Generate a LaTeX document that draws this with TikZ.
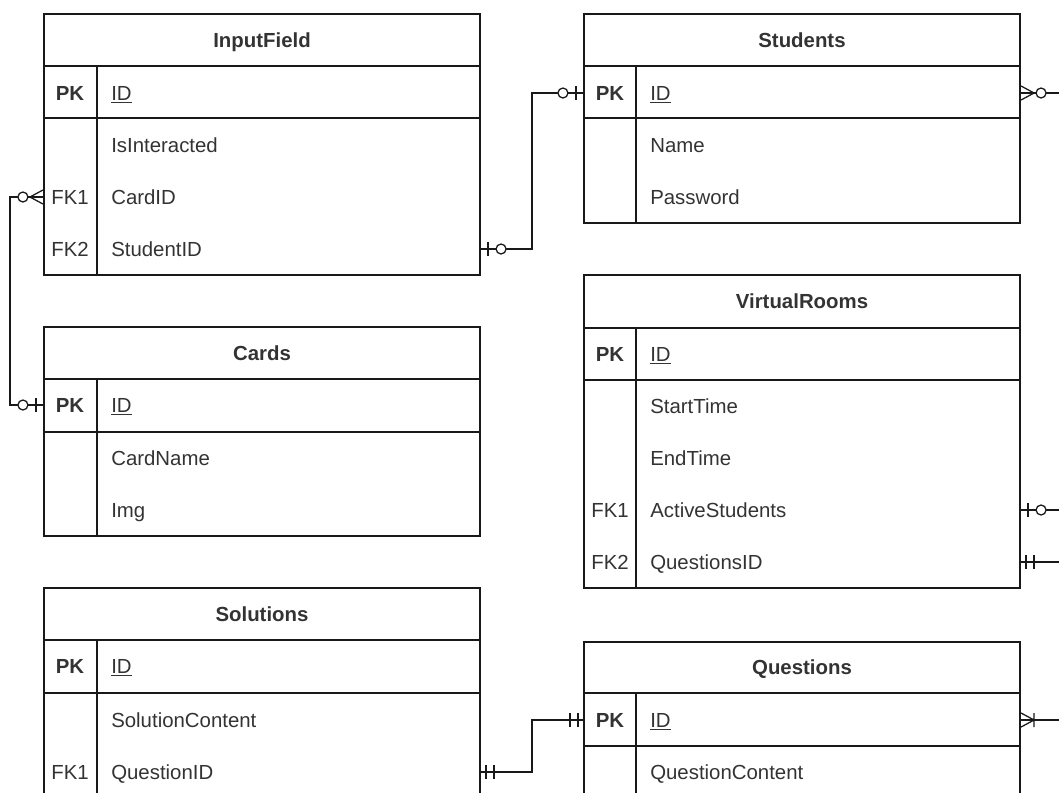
\documentclass[tikz,border=0pt]{standalone}
\usepackage{fontspec}
\setmainfont{Liberation Sans}
\definecolor{ink}{HTML}{333333}
\tikzset{
  tbl/.style={draw=black!90, line width=0.9pt},
  link/.style={draw=black!90, line width=0.9pt},
  txt/.style={font=\fontsize{14.5}{17}\selectfont, text=ink, inner sep=0pt, text height=10.4pt, text depth=0pt},
  hdr/.style={txt, font=\fontsize{14.5}{17}\selectfont\bfseries},
  key/.style={txt},
  fld/.style={txt, anchor=west},
  row/.style={minimum width=10.9cm, minimum height=1.3cm, inner sep=0pt, outer sep=0pt},
  zeroone/.pic={\draw[link] (8,-7) -- (8,7); \draw[link, fill=white] (21,0) circle [radius=5];},
  exactone/.pic={\draw[link] (6,-7) -- (6,7) (14,-7) -- (14,7);},
  zeromany/.pic={\draw[link] (1,-7) -- (14,0) -- (1,7); \draw[link, fill=white] (21,0) circle [radius=5];},
  onemany/.pic={\draw[link] (1,-7) -- (14,0) -- (1,7) (14,-7) -- (14,7);}
}
\begin{document}
\begin{tikzpicture}[x=0.025cm, y=-0.025cm]

  \clip (0,0) rectangle (1059,792);

  % InputField
  \draw[tbl] (44,14) rectangle (480,275) (44,66) -- (480,66) (44,118) -- (480,118) (97,66) -- (97,275);
  \node[hdr] (inp) at (262,40) {InputField};
  \foreach \y/\k/\f/\n in {93/\textbf{PK}/\underline{ID}/inp-id, 145//IsInteracted/inp-int, 197/FK1/CardID/inp-card, 249/FK2/StudentID/inp-stu}{
    \node[row] (\n) at (262,\y) {};
    \node[key] (\n-k) at (70,\y) {\k};
    \node[fld] (\n-f) at (111,\y) {\f};
  }

  % Cards
  \draw[tbl] (44,327) rectangle (480,536) (44,379) -- (480,379) (44,432) -- (480,432) (97,379) -- (97,536);
  \node[hdr] (crd) at (262,353) {Cards};
  \foreach \y/\k/\f/\n in {405/\textbf{PK}/\underline{ID}/crd-id, 458//CardName/crd-name, 510//Img/crd-img}{
    \node[row] (\n) at (262,\y) {};
    \node[key] (\n-k) at (70,\y) {\k};
    \node[fld] (\n-f) at (111,\y) {\f};
  }

  % Solutions
  \draw[tbl] (44,588) rectangle (480,798) (44,640) -- (480,640) (44,693) -- (480,693) (97,640) -- (97,798);
  \node[hdr] (sol) at (262,614) {Solutions};
  \foreach \y/\k/\f/\n in {666/\textbf{PK}/\underline{ID}/sol-id, 720//SolutionContent/sol-cont, 772/FK1/QuestionID/sol-qid}{
    \node[row] (\n) at (262,\y) {};
    \node[key] (\n-k) at (70,\y) {\k};
    \node[fld] (\n-f) at (111,\y) {\f};
  }

  % Students
  \draw[tbl] (584,14) rectangle (1020,223) (584,66) -- (1020,66) (584,118) -- (1020,118) (636,66) -- (636,223);
  \node[hdr] (stu) at (802,40) {Students};
  \foreach \y/\k/\f/\n in {93/\textbf{PK}/\underline{ID}/stu-id, 145//Name/stu-name, 197//Password/stu-pw}{
    \node[row] (\n) at (802,\y) {};
    \node[key] (\n-k) at (610,\y) {\k};
    \node[fld] (\n-f) at (650,\y) {\f};
  }

  % VirtualRooms
  \draw[tbl] (584,275) rectangle (1020,588) (584,328) -- (1020,328) (584,380) -- (1020,380) (636,328) -- (636,588);
  \node[hdr] (vr) at (802,301) {VirtualRooms};
  \foreach \y/\k/\f/\n in {354/\textbf{PK}/\underline{ID}/vr-id, 406//StartTime/vr-start, 458//EndTime/vr-end, 510/FK1/ActiveStudents/vr-act, 562/FK2/QuestionsID/vr-qid}{
    \node[row] (\n) at (802,\y) {};
    \node[key] (\n-k) at (610,\y) {\k};
    \node[fld] (\n-f) at (650,\y) {\f};
  }

  % Questions
  \draw[tbl] (584,642) rectangle (1020,798) (584,693) -- (1020,693) (584,746) -- (1020,746) (636,693) -- (636,798);
  \node[hdr] (que) at (802,667) {Questions};
  \foreach \y/\k/\f/\n in {720/\textbf{PK}/\underline{ID}/que-id, 772//QuestionContent/que-cont}{
    \node[row] (\n) at (802,\y) {};
    \node[key] (\n-k) at (610,\y) {\k};
    \node[fld] (\n-f) at (650,\y) {\f};
  }

  % relations
  \coordinate (stu-out) at (1059,93);
  \coordinate (vr-act-out) at (1059,510);
  \coordinate (vr-qid-out) at (1059,562);
  \coordinate (que-out) at (1059,720);

  \draw[link] (inp-card.west) -- ++(-34,0) |- (crd-id.west);
  \draw[link] (inp-stu.east) -- ++(52,0) |- (stu-id.west);
  \draw[link] (sol-qid.east) -- ++(52,0) |- (que-id.west);
  \draw[link] (stu-id.east) -- (stu-out);
  \draw[link] (vr-act.east) -- (vr-act-out);
  \draw[link] (vr-qid.east) -- (vr-qid-out);
  \draw[link] (que-id.east) -- (que-out);

  % line ends
  \pic[rotate=180] at (inp-card.west) {zeromany};
  \pic[rotate=180] at (crd-id.west) {zeroone};
  \pic at (inp-stu.east) {zeroone};
  \pic[rotate=180] at (stu-id.west) {zeroone};
  \pic at (stu-id.east) {zeromany};
  \pic at (vr-act.east) {zeroone};
  \pic at (vr-qid.east) {exactone};
  \pic at (sol-qid.east) {exactone};
  \pic[rotate=180] at (que-id.west) {exactone};
  \pic at (que-id.east) {onemany};

\end{tikzpicture}
\end{document}
